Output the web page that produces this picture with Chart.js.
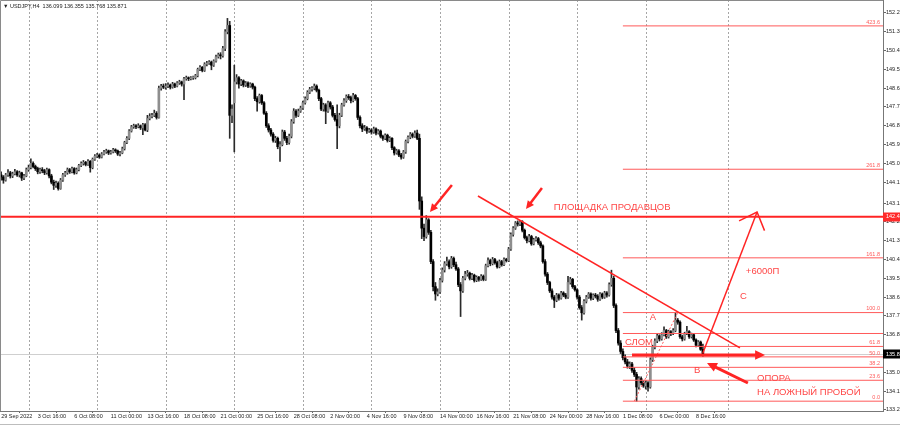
<!DOCTYPE html>
<html>
<head>
<meta charset="utf-8">
<script src="https://cdn.jsdelivr.net/npm/chart.js@4.4.0/dist/chart.umd.min.js"></script>
<style>
  html, body { margin: 0; padding: 0; background: #fff; }
  #wrap { width: 900px; height: 426px; position: relative; }
</style>
</head>
<body>
<div id="wrap"><canvas id="chart"></canvas></div>
<script>
// USDJPY H4, one row per candle: [open, high, low, close]
const candles = [
  [144.45,144.60,144.20,144.35],[144.35,144.42,144.05,144.20],[144.20,144.52,144.15,144.45],[144.45,144.70,144.38,144.55],[144.55,144.62,144.30,144.40],[144.40,144.58,144.32,144.50],
  [144.50,144.72,144.45,144.60],[144.60,144.66,144.38,144.45],[144.45,144.63,144.35,144.55],[144.55,144.58,144.18,144.30],[144.30,144.48,144.22,144.40],[144.40,144.78,144.36,144.70],
  [144.70,144.92,144.62,144.80],[144.80,145.22,144.74,145.00],[145.00,145.08,144.78,144.85],[144.85,144.92,144.66,144.75],[144.75,144.82,144.50,144.60],[144.60,144.78,144.52,144.70],
  [144.70,144.80,144.55,144.65],[144.65,144.72,144.46,144.55],[144.55,144.78,144.48,144.70],[144.70,144.74,144.30,144.40],[144.40,144.48,144.02,144.10],[144.10,144.20,143.75,143.95],
  [143.95,144.15,143.85,144.05],[144.05,144.12,143.72,143.80],[143.80,144.28,143.76,144.20],[144.20,144.52,144.14,144.45],[144.45,144.62,144.38,144.55],[144.55,144.78,144.48,144.70],
  [144.70,144.76,144.52,144.60],[144.60,144.82,144.55,144.75],[144.75,144.80,144.48,144.55],[144.55,144.78,144.50,144.70],[144.70,144.96,144.64,144.90],[144.90,145.08,144.84,145.00],
  [145.00,145.14,144.92,145.05],[145.05,145.10,144.88,144.95],[144.95,145.18,144.90,145.10],[145.10,145.14,144.58,144.80],[144.80,145.26,144.74,145.20],[145.20,145.42,145.14,145.35],
  [145.35,145.48,145.28,145.40],[145.40,145.46,145.24,145.30],[145.30,145.52,145.26,145.45],[145.45,145.62,145.40,145.55],[145.55,145.68,145.48,145.60],[145.60,145.64,145.42,145.50],
  [145.50,145.62,145.44,145.55],[145.55,145.72,145.50,145.65],[145.65,145.70,145.52,145.60],[145.60,145.64,145.38,145.45],[145.45,145.58,145.36,145.50],[145.50,145.78,145.46,145.70],
  [145.70,146.06,145.64,146.00],[146.00,146.28,145.94,146.20],[146.20,146.62,146.14,146.55],[146.55,146.82,146.50,146.75],[146.75,146.88,146.68,146.80],[146.80,146.86,146.66,146.75],
  [146.75,146.90,146.70,146.80],[146.80,146.84,146.62,146.70],[146.70,146.92,146.38,146.85],[146.85,146.90,146.55,146.60],[146.60,147.30,146.52,147.15],[147.15,147.38,147.08,147.25],
  [147.25,147.40,147.18,147.30],[147.30,147.55,147.24,147.40],[147.40,147.48,147.12,147.20],[147.20,148.70,147.16,148.60],[148.60,148.78,148.50,148.70],[148.70,148.80,148.58,148.65],
  [148.65,148.82,148.55,148.70],[148.70,148.86,148.62,148.75],[148.75,148.80,148.56,148.65],[148.65,148.88,148.60,148.80],[148.80,148.84,148.62,148.70],[148.70,148.92,148.66,148.85],
  [148.85,148.98,148.78,148.90],[148.90,148.94,148.70,148.80],[148.80,149.12,148.05,149.05],[149.05,149.18,148.98,149.10],[149.10,149.14,148.96,149.05],[149.05,149.16,149.00,149.10],
  [149.10,149.18,149.02,149.10],[149.10,149.26,149.04,149.20],[149.20,149.56,149.14,149.50],[149.50,149.68,149.44,149.60],[149.60,149.64,149.38,149.45],[149.45,149.82,149.40,149.75],
  [149.75,149.88,149.66,149.80],[149.80,149.92,149.74,149.85],[149.85,149.90,149.48,149.70],[149.70,149.96,149.64,149.90],[149.90,150.18,149.84,150.10],[150.10,150.28,150.04,150.20],
  [150.20,150.30,150.00,150.15],[150.15,150.60,150.08,150.50],[150.50,151.40,150.40,151.30],[151.30,151.94,151.20,151.60],[151.60,151.80,146.20,147.30],[147.30,147.80,146.95,147.60],
  [147.90,149.70,145.55,148.90],[148.90,149.25,148.80,149.10],[149.10,149.15,148.60,148.80],[148.80,149.02,148.72,148.95],[148.95,149.00,148.66,148.75],[148.75,148.92,148.68,148.85],
  [148.85,148.90,148.62,148.70],[148.70,148.86,148.64,148.80],[148.80,148.84,148.56,148.65],[148.65,148.70,148.00,148.10],[148.10,148.20,147.50,147.95],[147.95,148.32,147.88,148.25],
  [148.25,148.30,147.82,147.90],[147.90,147.96,147.34,147.40],[147.40,147.48,146.72,146.80],[146.80,146.90,146.50,146.60],[146.60,146.68,146.30,146.40],[146.40,146.48,146.02,146.10],
  [146.10,146.30,146.00,146.20],[146.20,146.26,145.70,145.80],[145.80,146.05,145.10,145.90],[145.90,146.60,145.84,146.50],[146.50,146.58,146.10,146.20],[146.20,146.30,145.90,146.00],
  [146.00,146.40,145.92,146.30],[146.30,147.10,146.22,147.00],[147.00,147.62,146.92,147.50],[147.50,147.58,147.20,147.30],[147.30,147.60,147.24,147.50],[147.50,147.74,147.44,147.65],
  [147.65,147.98,147.58,147.90],[147.90,148.18,147.84,148.10],[148.10,148.48,148.04,148.40],[148.40,148.64,148.34,148.55],[148.55,148.68,148.46,148.60],[148.60,148.80,148.52,148.70],
  [148.70,148.76,148.42,148.50],[148.50,148.56,148.00,148.10],[148.10,148.16,147.52,147.60],[147.60,147.88,147.50,147.80],[147.80,147.86,146.90,147.50],[147.50,147.98,147.44,147.90],
  [147.90,147.96,147.60,147.70],[147.70,147.78,147.22,147.30],[147.30,147.40,147.02,147.10],[147.10,147.80,145.70,146.80],[146.80,147.40,146.70,147.30],[147.30,147.88,147.24,147.80],
  [147.80,148.10,147.74,148.00],[148.00,148.28,147.92,148.20],[148.20,148.30,148.06,148.15],[148.15,148.22,147.90,148.00],[148.00,148.35,147.94,148.25],[148.25,148.30,148.02,148.10],
  [148.10,148.16,147.10,147.20],[147.20,147.28,146.70,146.80],[146.80,146.90,146.52,146.65],[146.65,146.82,146.58,146.70],[146.70,146.76,146.44,146.55],[146.55,146.68,146.48,146.60],
  [146.60,146.66,146.40,146.50],[146.50,146.74,146.44,146.65],[146.65,146.70,146.36,146.45],[146.45,146.62,146.40,146.55],[146.55,146.60,146.22,146.30],[146.30,146.36,146.10,146.20],
  [146.20,146.42,146.14,146.35],[146.35,146.40,146.02,146.10],[146.10,146.28,146.04,146.20],[146.20,146.24,145.66,145.75],[145.75,145.80,145.40,145.50],[145.50,145.68,145.44,145.60],
  [145.60,145.66,145.32,145.40],[145.40,145.48,145.20,145.30],[145.30,145.62,145.24,145.55],[145.55,146.12,145.48,146.05],[146.05,146.32,145.98,146.25],[146.25,146.48,146.18,146.40],
  [146.40,146.46,146.22,146.30],[146.30,146.56,146.24,146.45],[146.45,146.60,146.14,146.20],[146.20,146.40,142.80,143.20],[143.20,143.40,141.40,141.90],[141.90,142.10,141.30,141.50],
  [141.50,142.50,141.42,142.30],[142.30,142.36,141.60,141.70],[141.70,141.80,140.20,140.30],[140.30,140.40,138.90,139.10],[139.10,139.30,138.45,138.75],[138.75,139.00,138.66,138.85],
  [138.85,139.50,138.78,139.40],[139.40,140.00,139.32,139.90],[139.90,140.30,139.80,140.20],[140.20,140.52,140.12,140.30],[140.30,140.38,139.95,140.05],[140.05,140.55,139.98,140.45],
  [140.45,140.52,140.06,140.15],[140.15,140.28,139.88,139.95],[139.95,140.02,139.10,139.20],[139.20,139.30,137.67,138.90],[138.90,139.60,138.82,139.50],[139.50,139.84,139.42,139.70],
  [139.70,139.88,139.60,139.75],[139.75,139.80,139.42,139.50],[139.50,139.74,139.44,139.65],[139.65,139.70,139.32,139.40],[139.40,139.62,139.34,139.55],[139.55,139.60,139.36,139.45],
  [139.45,139.68,139.40,139.60],[139.60,139.66,139.38,139.45],[139.45,140.18,139.40,140.10],[140.10,140.48,140.04,140.35],[140.35,140.42,140.10,140.20],[140.20,140.50,140.14,140.40],
  [140.40,140.46,140.18,140.25],[140.25,140.32,139.98,140.05],[140.05,140.38,140.00,140.30],[140.30,140.36,140.08,140.15],[140.15,140.48,140.10,140.40],[140.40,140.46,140.28,140.35],
  [140.35,140.98,140.30,140.90],[140.90,141.68,140.84,141.60],[141.60,141.98,141.52,141.90],[141.90,142.22,141.84,142.15],[142.15,142.25,142.00,142.10],[142.10,142.28,142.02,142.20],
  [142.20,142.26,141.72,141.80],[141.80,141.86,141.38,141.45],[141.45,141.52,141.20,141.30],[141.30,141.60,141.24,141.50],[141.50,141.56,141.08,141.15],[141.15,141.42,141.10,141.35],
  [141.35,141.50,141.28,141.40],[141.40,141.46,141.12,141.20],[141.20,141.28,140.96,141.05],[141.05,141.10,140.22,140.30],[140.30,140.40,139.60,139.70],[139.70,139.78,139.20,139.30],
  [139.30,139.36,138.82,138.90],[138.90,139.00,138.50,138.60],[138.60,138.68,138.10,138.45],[138.45,138.78,138.38,138.70],[138.70,138.76,138.46,138.55],[138.55,138.88,138.50,138.80],
  [138.80,138.86,138.62,138.70],[138.70,138.78,138.52,138.60],[138.60,139.60,138.54,139.30],[139.30,139.55,139.22,139.45],[139.45,139.50,139.02,139.10],[139.10,139.16,138.88,138.95],
  [138.95,139.00,138.50,138.60],[138.60,138.68,138.02,138.10],[138.10,138.20,137.50,137.85],[137.85,138.48,137.78,138.40],[138.40,138.68,138.32,138.60],[138.60,138.82,138.54,138.75],
  [138.75,138.80,138.46,138.55],[138.55,138.76,138.48,138.70],[138.70,138.78,138.56,138.65],[138.65,138.72,138.40,138.50],[138.50,138.82,138.44,138.75],[138.75,138.80,138.52,138.60],
  [138.60,138.88,138.54,138.80],[138.80,138.86,138.60,138.70],[138.70,139.28,138.64,139.20],[139.20,139.89,139.12,139.50],[139.50,139.60,138.10,138.20],[138.20,138.28,136.90,137.00],
  [137.00,137.10,136.30,136.40],[136.40,136.52,135.90,136.00],[136.00,136.12,135.60,135.70],[135.70,135.84,135.40,135.50],[135.50,135.62,135.20,135.30],[135.30,135.50,135.18,135.40],
  [135.40,135.48,135.00,135.10],[135.10,135.22,134.80,134.90],[134.90,135.00,133.62,134.30],[134.30,134.80,134.20,134.70],[134.70,134.78,134.40,134.50],[134.50,134.60,134.28,134.35],
  [134.35,134.60,134.20,134.50],[134.50,134.56,134.10,134.30],[134.30,135.70,134.24,135.60],[135.60,136.30,135.52,136.20],[136.20,136.60,136.12,136.50],[136.50,136.85,136.42,136.75],
  [136.75,136.80,136.50,136.60],[136.60,136.90,136.54,136.80],[136.80,137.18,136.74,137.00],[137.00,137.06,136.62,136.70],[136.70,137.02,136.64,136.95],[136.95,137.00,136.76,136.85],
  [136.85,137.10,136.80,137.00],[137.00,137.86,136.94,137.50],[137.50,137.58,137.30,137.40],[137.40,137.46,136.62,136.70],[136.70,136.78,136.50,136.60],[136.60,136.92,136.54,136.85],
  [136.85,137.20,136.80,136.95],[136.95,137.00,136.62,136.70],[136.70,136.88,136.64,136.80],[136.80,136.86,136.48,136.55],[136.55,136.60,136.22,136.30],[136.30,136.52,136.24,136.45],
  [136.45,136.50,136.05,136.10],[136.099,136.355,135.768,135.871]
]

const headerText = '▼ USDJPY,H4  136.099 136.355 135.768 135.871'
const dateTickIndex = [0, 16, 32, 48, 64, 80, 96, 112, 128, 144, 160, 176, 192, 208, 224, 240, 256, 272, 288, 304]
const dateLabels = ['29 Sep 2022', '3 Oct 16:00', '6 Oct 08:00', '11 Oct 00:00', '13 Oct 16:00', '18 Oct 08:00', '21 Oct 00:00',
  '25 Oct 16:00', '28 Oct 08:00', '2 Nov 00:00', '4 Nov 16:00', '9 Nov 08:00', '14 Nov 00:00', '16 Nov 16:00',
  '21 Nov 08:00', '24 Nov 00:00', '28 Nov 16:00', '1 Dec 08:00', '6 Dec 00:00', '8 Dec 16:00']
const weekStarts = [12, 42, 72, 102, 132, 162, 192, 222, 252, 282, 318]
const priceTicks = [152.2, 151.3, 150.4, 149.5, 148.6, 147.7, 146.8, 145.9, 145.0, 144.1, 143.1, 142.2, 141.3,
  140.4, 139.5, 138.6, 137.7, 136.8, 135.9, 135.0, 134.1, 133.2]

// drawn objects, in (bar index, price)
const sellerLevel = 142.45
const bidPrice = 135.871
const trendLine = [[208.6, 143.44], [323.2, 136.17]]
const fibFrom = [277, 133.62]
const fibTo = [296, 137.86]
const fibStart = 272
const fibRatios = [0, 23.6, 38.2, 50, 61.8, 76.4, 100, 161.8, 261.8, 423.6]
const fibNames = ['0.0', '23.6', '38.2', '50.0', '61.8', '', '100.0', '161.8', '261.8', '423.6']
const arrows = [
  { from: [197.2, 143.97], to: [187.6, 142.67] },
  { from: [236.6, 143.82], to: [229.6, 142.82] },
  { from: [276.0, 135.83], to: [334.2, 135.83], thick: true },
  { from: [326.7, 134.49], to: [308.8, 135.45], thick: true }
]
const targetLine = [[307, 135.93], [330.7, 142.67]]
const notes = [
  { text: 'ПЛОЩАДКА ПРОДАВЦОВ', at: [241.8, 142.91] },
  { text: '+6000П', at: [325.8, 139.85] },
  { text: 'C', at: [323.2, 138.65] },
  { text: 'A', at: [283.8, 137.65] },
  { text: 'СЛОМ', at: [272.9, 136.45] },
  { text: 'B', at: [303.1, 135.11] },
  { text: 'ОПОРА', at: [330.7, 134.73] },
  { text: 'НА ЛОЖНЫЙ ПРОБОЙ', at: [330.7, 134.06] }
]
const axisMarks = [
  { value: sellerLevel, text: '142.4', bg: '#ff2b2b' },
  { value: bidPrice, text: '135.8', bg: '#000000' }
]

const RED = '#ff2424'
const FIB_RED = '#ff5a5a'
const TEXT_RED = '#ff4646'
const FONT = '"Liberation Sans", Arial, sans-serif'

const fibPrice = r => fibFrom[1] + (fibTo[1] - fibFrom[1]) * r / 100
const xEnd = 385.8

function lineSet(points, color, width, dash) {
  return { type: 'line', data: points.map(p => ({ x: p[0], y: p[1] })), borderColor: color, borderWidth: width,
    borderDash: dash || [], pointRadius: 0, tension: 0, order: 0 }
}

const lineSets = [
  lineSet([[-0.5, sellerLevel], [xEnd, sellerLevel]], RED, 2),
  lineSet(trendLine, RED, 1.5),
  lineSet([fibFrom, fibTo], FIB_RED, 1, [2, 2]),
  lineSet(targetLine, RED, 1.5),
  ...fibRatios.map(r => lineSet([[fibStart, fibPrice(r)], [xEnd, fibPrice(r)]], FIB_RED, 1))
]

function drawArrow(ctx, x1, y1, x2, y2, width, head) {
  const a = Math.atan2(y2 - y1, x2 - x1)
  const bx = x2 - Math.cos(a) * head * 0.8
  const by = y2 - Math.sin(a) * head * 0.8
  ctx.lineWidth = width
  ctx.beginPath(); ctx.moveTo(x1, y1); ctx.lineTo(bx, by); ctx.stroke()
  ctx.beginPath()
  ctx.moveTo(x2, y2)
  ctx.lineTo(x2 - head * Math.cos(a - 0.45), y2 - head * Math.sin(a - 0.45))
  ctx.lineTo(x2 - head * Math.cos(a + 0.45), y2 - head * Math.sin(a + 0.45))
  ctx.closePath(); ctx.fill()
}

const overlay = {
  id: 'overlay',
  beforeDatasetsDraw(chart) {
    const { ctx, chartArea: area, scales: { x, y } } = chart
    ctx.save()
    ctx.strokeStyle = '#a6a6a6'; ctx.lineWidth = 1; ctx.setLineDash([2, 2])
    for (const w of weekStarts) {
      const px = Math.round(x.getPixelForValue(w)) + 0.5
      ctx.beginPath(); ctx.moveTo(px, area.top); ctx.lineTo(px, area.bottom); ctx.stroke()
    }
    ctx.setLineDash([])
    ctx.strokeStyle = '#cfcfcf'
    const by = Math.round(y.getPixelForValue(bidPrice)) + 0.5
    ctx.beginPath(); ctx.moveTo(area.left, by); ctx.lineTo(area.right, by); ctx.stroke()
    ctx.restore()
  },
  afterDatasetsDraw(chart) {
    const { ctx, chartArea: area, scales: { x, y } } = chart
    ctx.save()
    ctx.strokeStyle = RED; ctx.fillStyle = RED
    for (const ar of arrows) {
      drawArrow(ctx, x.getPixelForValue(ar.from[0]), y.getPixelForValue(ar.from[1]),
        x.getPixelForValue(ar.to[0]), y.getPixelForValue(ar.to[1]), ar.thick ? 3 : 2.5, ar.thick ? 11 : 9)
    }
    // open head on the target line
    const tx = x.getPixelForValue(targetLine[1][0]), ty = y.getPixelForValue(targetLine[1][1])
    const a = Math.atan2(ty - y.getPixelForValue(targetLine[0][1]), tx - x.getPixelForValue(targetLine[0][0]))
    ctx.lineWidth = 1.5
    ctx.beginPath()
    ctx.moveTo(tx - 20 * Math.cos(a - 0.75), ty - 20 * Math.sin(a - 0.75)); ctx.lineTo(tx, ty)
    ctx.lineTo(tx - 20 * Math.cos(a + 0.75), ty - 20 * Math.sin(a + 0.75))
    ctx.stroke()

    ctx.fillStyle = TEXT_RED; ctx.font = '9.5px ' + FONT; ctx.textBaseline = 'middle'; ctx.textAlign = 'left'
    for (const n of notes) ctx.fillText(n.text, x.getPixelForValue(n.at[0]), y.getPixelForValue(n.at[1]))

    ctx.fillStyle = FIB_RED; ctx.font = '5.5px ' + FONT; ctx.textAlign = 'right'; ctx.textBaseline = 'bottom'
    fibRatios.forEach((r, k) => { if (fibNames[k]) ctx.fillText(fibNames[k], area.right - 3, y.getPixelForValue(fibPrice(r)) - 1) })
    ctx.restore()
  },
  afterDraw(chart) {
    const { ctx, chartArea: area, scales: { y } } = chart
    ctx.save()
    ctx.strokeStyle = '#8a8a8a'; ctx.lineWidth = 1
    ctx.beginPath(); ctx.moveTo(area.left + 0.5, area.bottom); ctx.lineTo(area.left + 0.5, area.top + 0.5); ctx.lineTo(area.right, area.top + 0.5); ctx.stroke()
    ctx.strokeStyle = '#bdbdbd'
    ctx.beginPath(); ctx.moveTo(0, 424.5); ctx.lineTo(900, 424.5); ctx.stroke()
    ctx.font = '5.5px ' + FONT; ctx.textBaseline = 'middle'; ctx.textAlign = 'left'
    for (const m of axisMarks) {
      const py = y.getPixelForValue(m.value)
      ctx.fillStyle = m.bg; ctx.fillRect(area.right, Math.round(py) - 4.5, 900 - area.right, 9)
      ctx.fillStyle = '#fff'; ctx.fillText(m.text, area.right + 3, py)
    }
    ctx.fillStyle = '#222'; ctx.fillText(headerText, 3, 6)
    ctx.restore()
  }
}

Chart.defaults.font.family = FONT

new Chart(document.getElementById('chart'), {
  type: 'bar',
  data: {
    datasets: [
      ...lineSets,
      {
        type: 'bar', order: 2, grouped: false, barThickness: 1,
        data: candles.map((c, i) => ({ x: i, y: [c[2], c[1]] })),
        backgroundColor: '#2a2a2a'
      },
      {
        type: 'bar', order: 1, grouped: false, barThickness: 2, minBarLength: 1,
        data: candles.map((c, i) => ({ x: i, y: [c[0], c[3]] })),
        backgroundColor: candles.map(c => c[3] >= c[0] ? '#8e8e8e' : '#000')
      }
    ]
  },
  options: {
    responsive: true, maintainAspectRatio: false, animation: false, events: [],
    layout: { padding: 0 },
    plugins: { legend: { display: false }, tooltip: { enabled: false } },
    scales: {
      x: {
        type: 'linear', min: -0.5, max: xEnd, offset: false,
        afterBuildTicks: axis => { axis.ticks = dateTickIndex.map(v => ({ value: v })) },
        afterFit: s => { s.height = 15; s.paddingLeft = 0; s.paddingRight = 0 },
        grid: { drawOnChartArea: false, tickLength: 2, color: '#666' },
        border: { display: true, color: '#777' },
        ticks: { autoSkip: false, maxRotation: 0, align: 'start', padding: 0, color: '#222', font: { size: 5.5 },
          callback: (v, i) => dateLabels[i] }
      },
      y: {
        type: 'linear', position: 'right', min: 133.15, max: 152.82,
        afterBuildTicks: axis => { axis.ticks = priceTicks.map(v => ({ value: v })) },
        afterFit: s => { s.width = 17; s.paddingTop = 0; s.paddingBottom = 0 },
        grid: { drawOnChartArea: false, tickLength: 3, color: '#666' },
        border: { display: true, color: '#777' },
        ticks: { autoSkip: false, padding: 0, color: '#222', font: { size: 5.5 }, callback: v => v.toFixed(1) }
      }
    }
  },
  plugins: [overlay]
})
</script>
</body>
</html>
